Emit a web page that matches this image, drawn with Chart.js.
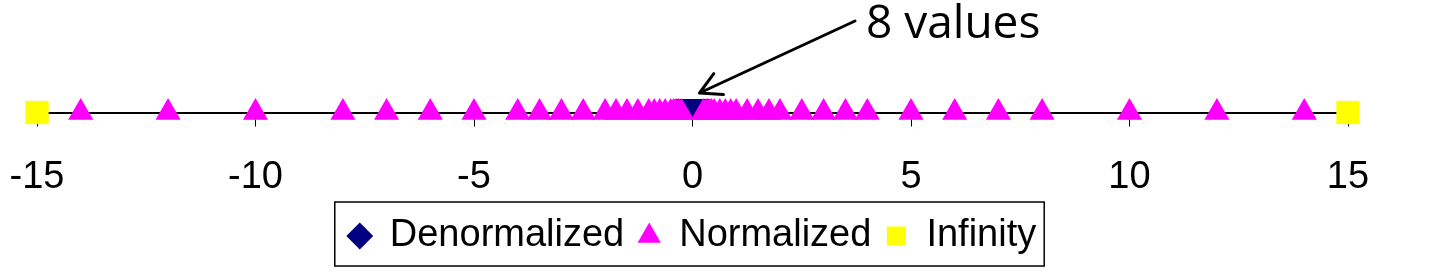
<!DOCTYPE html>
<html>
<head>
<meta charset="utf-8">
<script src="https://cdn.jsdelivr.net/npm/chart.js@4/dist/chart.umd.min.js"></script>
<style>
   html, body { margin: 0; padding: 0; background: #fff; }
   canvas { display: block; }
</style>
</head>
<body>
<canvas id="chart" width="1437" height="273"></canvas>
<script>
'use strict';

// values (x position on the number line)
const denormValues = [-0.1875, -0.125, -0.0625, 0, 0, 0.0625, 0.125, 0.1875];
const normValues = [
   -14, -12, -10, -8, -7, -6, -5, -4, -3.5, -3, -2.5, -2,
   -1.75, -1.5, -1.25, -1, -0.875, -0.75, -0.625, -0.5, -0.4375, -0.375, -0.3125, -0.25,
   0.25, 0.3125, 0.375, 0.4375, 0.5, 0.625, 0.75, 0.875, 1, 1.25, 1.5, 1.75,
   2, 2.5, 3, 3.5, 4, 5, 6, 7, 8, 10, 12, 14
];
const infValues = [-15, 15];
const seriesNames = ['Denormalized', 'Normalized', 'Infinity'];
const xTicks = [-15, -10, -5, 0, 5, 10, 15];
const noteText = '8 values';

function toPoints(values) {
   return values.map(function (v) { return { x: v, y: 0 }; });
}

// only the upper part of the diamonds shows between the triangles,
// so the marker is a downward wedge sitting high on the point
function makeDenormMark() {
   const c = document.createElement('canvas');
   c.width = 20;
   c.height = 28;
   const g = c.getContext('2d');
   g.fillStyle = '#000080';
   g.beginPath();
   g.moveTo(0, 0);
   g.lineTo(20, 0);
   g.lineTo(10, 20);
   g.closePath();
   g.fill();
   return c;
}

const legendBorder = {
   id: 'legendBorder',
   afterDraw: function (chart) {
      const boxes = chart.legend && chart.legend.legendHitBoxes;
      if (!boxes || !boxes.length)
         return;
      const first = boxes[0];
      const last = boxes[boxes.length - 1];
      const ctx = chart.ctx;
      const left = first.left - 14;
      const right = last.left + last.width + 8;
      ctx.save();
      ctx.strokeStyle = '#000';
      ctx.lineWidth = 1.5;
      ctx.strokeRect(left, first.top - 15, right - left, first.height + 26);
      ctx.restore();
   }
};

// the "8 values" note and its arrow, pointing at zero
const noteArrow = {
   id: 'noteArrow',
   afterDraw: function (chart) {
      const ctx = chart.ctx;
      const xs = chart.scales.x;
      const tipX = xs.getPixelForValue(0) + 7;
      const tipY = 93;
      const startX = 855, startY = 21;
      ctx.save();
      ctx.strokeStyle = '#000';
      ctx.lineWidth = 3;
      ctx.lineCap = 'round';
      ctx.lineJoin = 'round';
      ctx.beginPath();
      ctx.moveTo(startX, startY);
      ctx.lineTo(tipX, tipY);
      const ang = Math.atan2(tipY - startY, tipX - startX);
      const len = 24;
      ctx.moveTo(tipX - len * Math.cos(ang - 0.5), tipY - len * Math.sin(ang - 0.5));
      ctx.lineTo(tipX, tipY);
      ctx.lineTo(tipX - len * Math.cos(ang + 0.5), tipY - len * Math.sin(ang + 0.5));
      ctx.stroke();
      ctx.fillStyle = '#000';
      ctx.font = '46px "Open Sans"';
      ctx.textBaseline = 'alphabetic';
      ctx.fillText(noteText, 866, 38);
      ctx.restore();
   }
};

const config = {
   type: 'scatter',
   data: {
      datasets: [{
         label: seriesNames[0],
         data: toPoints(denormValues),
         pointStyle: makeDenormMark(),
         radius: 12,
         backgroundColor: '#000080',
         borderColor: '#000080',
         borderWidth: 0,
         clip: false,
         order: 3
      }, {
         label: seriesNames[1],
         data: toPoints(normValues),
         pointStyle: 'triangle',
         radius: 14.5,
         backgroundColor: '#FF00FF',
         borderColor: '#FF00FF',
         borderWidth: 0,
         clip: false,
         order: 1
      }, {
         label: seriesNames[2],
         data: toPoints(infValues),
         pointStyle: 'rect',
         radius: 16.5,
         backgroundColor: '#FFFF00',
         borderColor: '#FFFF00',
         borderWidth: 0,
         clip: false,
         order: 2
      }]
   },
   options: {
      responsive: false,
      animation: false,
      layout: {
         padding: { left: 37, right: 89, top: 100, bottom: 8 }
      },
      scales: {
         x: {
            type: 'linear',
            min: -15,
            max: 15,
            afterBuildTicks: function (scale) {
               scale.ticks = xTicks.map(function (v) { return { value: v }; });
            },
            afterFit: function (scale) {
               // labels may hang past the ends; the plot keeps the padding as set
               scale.paddingLeft = 0;
               scale.paddingRight = 0;
               scale.height += 8;
            },
            ticks: {
               color: '#000',
               padding: 28,
               maxRotation: 0,
               font: { family: '"Liberation Sans", Arial, sans-serif', size: 38 }
            },
            grid: {
               drawOnChartArea: false,
               drawTicks: true,
               tickLength: 14,
               color: '#000',
               lineWidth: 1
            },
            border: {
               display: true,
               color: '#000',
               width: 2
            }
         },
         y: {
            display: false,
            min: 0,
            max: 1
         }
      },
      plugins: {
         legend: {
            display: true,
            position: 'bottom',
            labels: {
               usePointStyle: true,
               boxWidth: 22,
               boxHeight: 19,
               padding: 14,
               color: '#000',
               font: { family: '"Liberation Sans", Arial, sans-serif', size: 38 },
               generateLabels: function (chart) {
                  const items = Chart.defaults.plugins.legend.labels.generateLabels(chart);
                  items.forEach(function (item) {
                     if (item.datasetIndex === 0)
                        item.pointStyle = 'rectRot';
                  });
                  return items;
               },
               sort: function (a, b) { return a.datasetIndex - b.datasetIndex; }
            }
         },
         tooltip: { enabled: false }
      }
   },
   plugins: [legendBorder, noteArrow]
};

new Chart(document.getElementById('chart'), config);
</script>
</body>
</html>
